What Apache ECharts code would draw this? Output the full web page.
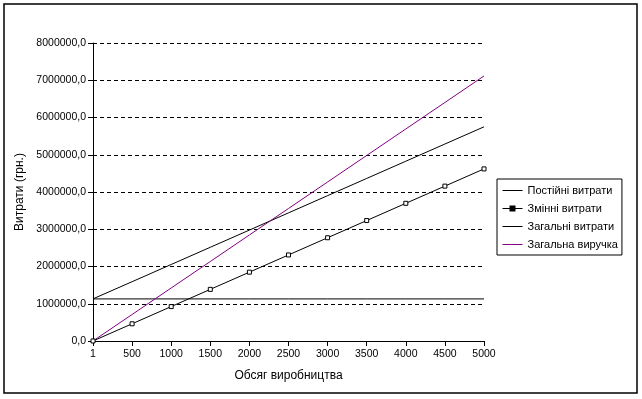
<!DOCTYPE html>
<html>
<head>
<meta charset="utf-8">
<script src="https://cdn.jsdelivr.net/npm/echarts@6/dist/echarts.min.js"></script>
<style>
  html, body { margin: 0; padding: 0; background: #fff; }
  #chart { width: 642px; height: 399px; }
</style>
</head>
<body>
<div id="chart"></div>
<script>
// Обсяг виробництва (категорії осі X)
const volumes = ['1', '500', '1000', '1500', '2000', '2500', '3000', '3500', '4000', '4500', '5000'];

// Постійні витрати
const fixedCosts = [1130000, 1130000, 1130000, 1130000, 1130000, 1130000, 1130000, 1130000, 1130000, 1130000, 1130000];

// Змінні витрати
const variableCosts = [924, 462000, 924000, 1386000, 1848000, 2310000, 2772000, 3234000, 3696000, 4158000, 4620000];

// Загальні витрати
const totalCosts = [1130924, 1592000, 2054000, 2516000, 2978000, 3440000, 3902000, 4364000, 4826000, 5288000, 5750000];

// Загальна виручка
const revenue = [1423, 711500, 1423000, 2134500, 2846000, 3557500, 4269000, 4980500, 5692000, 6403500, 7115000];

const seriesNames = ['Постійні витрати', 'Змінні витрати', 'Загальні витрати', 'Загальна виручка'];

const font = 'Arial, "Liberation Sans", sans-serif';

const chart = echarts.init(document.getElementById('chart'));

const option = {
    backgroundColor: '#fff',
    animation: false,
    textStyle: { fontFamily: font },
    graphic: [{
        type: 'rect',
        shape: { x: 4, y: 4, width: 633, height: 389 },
        style: { fill: 'none', stroke: '#000', lineWidth: 1.5 }
    }],
    grid: { left: 93, right: 158, top: 43, bottom: 58 },
    legend: {
        orient: 'vertical',
        left: 497,
        top: 179,
        padding: [6, 4, 5, 5],
        borderColor: '#000',
        borderWidth: 1,
        itemWidth: 20,
        itemHeight: 5,
        itemGap: 7,
        lineStyle: { width: 1 },
        textStyle: { fontSize: 11, color: '#000', fontFamily: font },
        data: [
            { name: seriesNames[0], itemStyle: { opacity: 0 } },
            { name: seriesNames[1], itemStyle: { color: '#000', borderColor: '#000' } },
            { name: seriesNames[2], itemStyle: { opacity: 0 } },
            { name: seriesNames[3], itemStyle: { opacity: 0 } }
        ]
    },
    xAxis: {
        type: 'category',
        data: volumes,
        boundaryGap: false,
        name: 'Обсяг виробництва',
        nameLocation: 'middle',
        nameGap: 29,
        nameTextStyle: { fontSize: 12, color: '#000' },
        axisLine: { lineStyle: { color: '#000', width: 1 } },
        axisTick: { interval: 0, length: 5, lineStyle: { color: '#000' } },
        axisLabel: { interval: 0, fontSize: 10.5, color: '#000', margin: 8 },
        splitLine: { show: false }
    },
    yAxis: {
        type: 'value',
        min: 0,
        max: 8000000,
        interval: 1000000,
        name: 'Витрати (грн.)',
        nameLocation: 'middle',
        nameGap: 64,
        nameTextStyle: { fontSize: 12, color: '#000' },
        axisLine: { show: true, lineStyle: { color: '#000', width: 1 } },
        axisTick: { show: true, length: 5, lineStyle: { color: '#000' } },
        axisLabel: {
            fontSize: 10.5,
            color: '#000',
            margin: 7,
            formatter: function (v) { return v.toFixed(1).replace('.', ','); }
        },
        splitLine: { show: true, lineStyle: { color: '#000', type: [4, 3], width: 1 } }
    },
    series: [
        {
            name: seriesNames[0],
            type: 'line',
            data: fixedCosts,
            symbol: 'none',
            lineStyle: { color: '#000', width: 1 },
            itemStyle: { color: '#000' }
        },
        {
            name: seriesNames[1],
            type: 'line',
            data: variableCosts,
            symbol: 'rect',
            symbolSize: 4,
            lineStyle: { color: '#000', width: 1 },
            itemStyle: { color: '#fff', borderColor: '#000', borderWidth: 1 }
        },
        {
            name: seriesNames[2],
            type: 'line',
            data: totalCosts,
            symbol: 'none',
            lineStyle: { color: '#000', width: 1 },
            itemStyle: { color: '#000' }
        },
        {
            name: seriesNames[3],
            type: 'line',
            data: revenue,
            symbol: 'none',
            lineStyle: { color: '#800080', width: 1 },
            itemStyle: { color: '#800080' }
        }
    ]
};

chart.setOption(option);
</script>
</body>
</html>
